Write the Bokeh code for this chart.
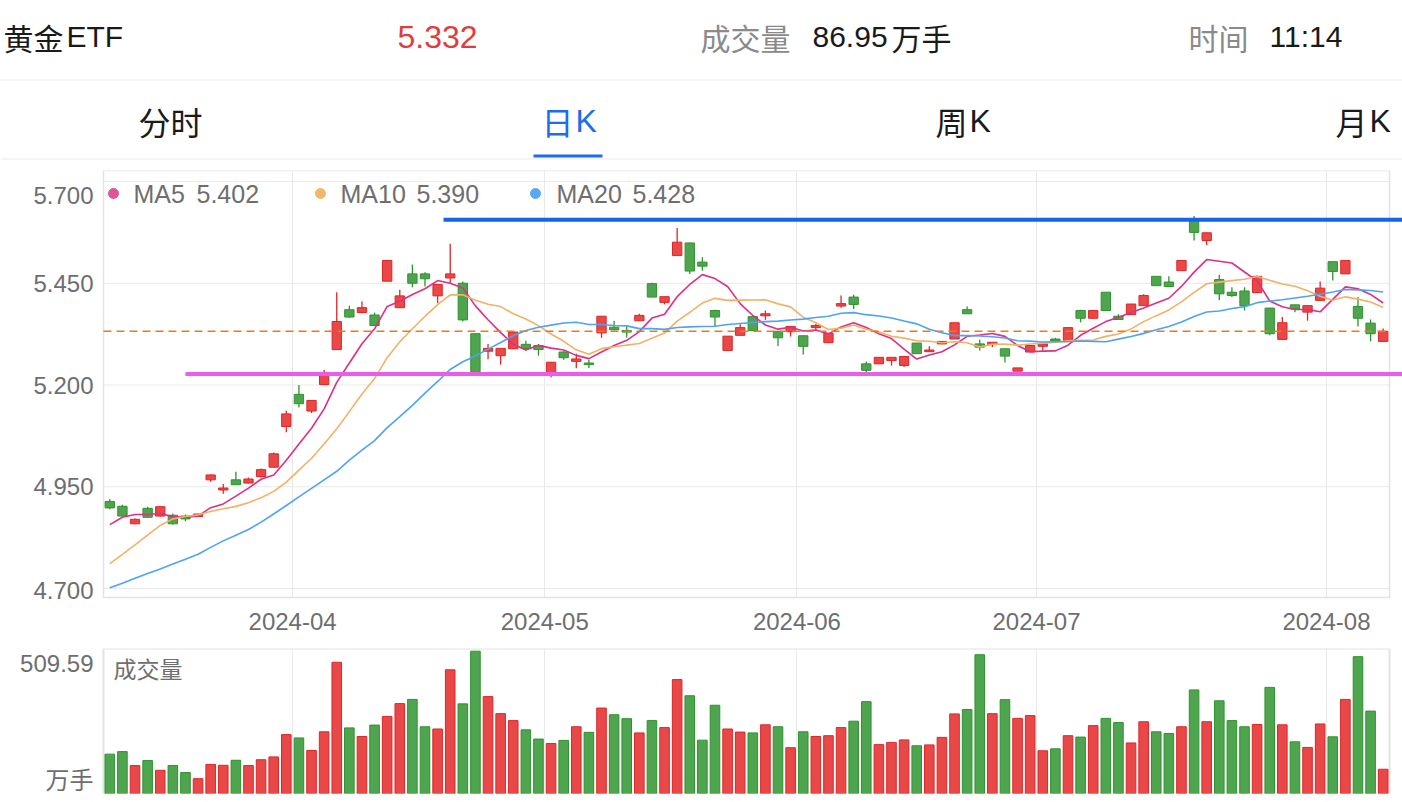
import numpy as np
import pandas as pd
from bokeh.plotting import figure
from bokeh.models import Range1d, FixedTicker, Grid, ColumnDataSource
from bokeh.layouts import column
from bokeh.embed import file_html
from bokeh.resources import INLINE
from bokeh.core.properties import value

# ---------------- data ----------------
holidays = ["2024-04-04", "2024-04-05", "2024-05-01", "2024-05-02", "2024-05-03", "2024-06-10"]
dates = [d.strftime("%Y-%m-%d") for d in pd.bdate_range("2024-03-11", "2024-08-07")
         if d.strftime("%Y-%m-%d") not in holidays]

open_ = [4.914, 4.902, 4.859, 4.897, 4.878, 4.880, 4.878, 4.877, 4.967, 4.942,
         4.967, 4.959, 4.975, 4.998, 5.098, 5.177, 5.136, 5.201, 5.287, 5.385,
         5.378, 5.372, 5.455, 5.390, 5.473, 5.473, 5.419, 5.463, 5.450, 5.326,
         5.283, 5.272, 5.289, 5.300, 5.297, 5.226, 5.281, 5.258, 5.254, 5.328,
         5.342, 5.334, 5.358, 5.449, 5.403, 5.518, 5.549, 5.502, 5.383, 5.285,
         5.322, 5.368, 5.370, 5.332, 5.331, 5.321, 5.341, 5.304, 5.394, 5.416,
         5.252, 5.252, 5.260, 5.248, 5.303, 5.282, 5.301, 5.313, 5.385, 5.301,
         5.299, 5.289, 5.234, 5.281, 5.295, 5.313, 5.309, 5.383, 5.364, 5.428,
         5.369, 5.373, 5.395, 5.467, 5.453, 5.481, 5.604, 5.555, 5.459, 5.428,
         5.431, 5.427, 5.389, 5.312, 5.397, 5.379, 5.408, 5.503, 5.473, 5.393,
         5.352, 5.307]
close = [4.898, 4.878, 4.870, 4.875, 4.901, 4.859, 4.871, 4.883, 4.979, 4.947,
         4.955, 4.969, 4.992, 5.031, 5.129, 5.154, 5.162, 5.231, 5.356, 5.367,
         5.390, 5.346, 5.506, 5.419, 5.450, 5.461, 5.447, 5.473, 5.360, 5.231,
         5.290, 5.290, 5.330, 5.290, 5.287, 5.256, 5.267, 5.264, 5.250, 5.369,
         5.336, 5.330, 5.371, 5.416, 5.417, 5.551, 5.480, 5.492, 5.367, 5.320,
         5.341, 5.334, 5.375, 5.316, 5.344, 5.295, 5.346, 5.327, 5.400, 5.398,
         5.236, 5.268, 5.268, 5.270, 5.277, 5.286, 5.307, 5.353, 5.375, 5.293,
         5.305, 5.271, 5.242, 5.297, 5.301, 5.308, 5.341, 5.364, 5.383, 5.383,
         5.361, 5.399, 5.420, 5.444, 5.442, 5.506, 5.575, 5.574, 5.424, 5.420,
         5.395, 5.467, 5.326, 5.353, 5.387, 5.395, 5.438, 5.479, 5.506, 5.364,
         5.326, 5.332]
high = [4.920, 4.906, 4.872, 4.901, 4.902, 4.884, 4.882, 4.884, 4.980, 4.957,
        4.987, 4.973, 4.995, 5.034, 5.137, 5.200, 5.162, 5.237, 5.428, 5.395,
        5.405, 5.378, 5.506, 5.434, 5.496, 5.477, 5.447, 5.547, 5.454, 5.327,
        5.301, 5.290, 5.330, 5.309, 5.301, 5.256, 5.283, 5.277, 5.262, 5.369,
        5.358, 5.344, 5.375, 5.451, 5.417, 5.586, 5.550, 5.514, 5.385, 5.320,
        5.349, 5.370, 5.383, 5.332, 5.344, 5.321, 5.350, 5.327, 5.420, 5.422,
        5.258, 5.268, 5.268, 5.270, 5.303, 5.295, 5.307, 5.353, 5.393, 5.311,
        5.305, 5.289, 5.242, 5.297, 5.301, 5.316, 5.341, 5.385, 5.383, 5.428,
        5.374, 5.399, 5.423, 5.467, 5.467, 5.506, 5.615, 5.574, 5.471, 5.440,
        5.440, 5.469, 5.389, 5.367, 5.397, 5.395, 5.454, 5.503, 5.506, 5.416,
        5.361, 5.339]
low = [4.895, 4.877, 4.858, 4.874, 4.877, 4.857, 4.865, 4.876, 4.962, 4.933,
       4.955, 4.958, 4.973, 4.997, 5.084, 5.145, 5.131, 5.201, 5.287, 5.365,
       5.376, 5.346, 5.455, 5.390, 5.440, 5.442, 5.401, 5.449, 5.356, 5.231,
       5.263, 5.250, 5.289, 5.285, 5.272, 5.219, 5.262, 5.241, 5.242, 5.316,
       5.334, 5.317, 5.358, 5.416, 5.398, 5.518, 5.473, 5.481, 5.344, 5.285,
       5.322, 5.334, 5.360, 5.296, 5.319, 5.275, 5.334, 5.304, 5.390, 5.387,
       5.231, 5.252, 5.248, 5.244, 5.277, 5.281, 5.300, 5.313, 5.375, 5.285,
       5.293, 5.255, 5.234, 5.281, 5.285, 5.308, 5.309, 5.354, 5.364, 5.383,
       5.361, 5.373, 5.395, 5.444, 5.442, 5.481, 5.555, 5.544, 5.408, 5.416,
       5.383, 5.427, 5.322, 5.312, 5.379, 5.358, 5.408, 5.457, 5.473, 5.344,
       5.307, 5.307]
volume = [141, 150, 100, 118, 83, 100, 75, 53, 104, 101,
          119, 100, 121, 131, 211, 199, 154, 221, 470, 235,
          204, 245, 276, 322, 337, 239, 231, 443, 321, 509.59,
          347, 286, 261, 228, 195, 179, 190, 239, 219, 306,
          282, 268, 217, 261, 236, 408, 350, 191, 316, 231,
          220, 217, 246, 239, 164, 221, 204, 207, 236, 259,
          329, 175, 183, 192, 171, 174, 201, 285, 301, 497,
          286, 336, 269, 279, 153, 160, 207, 202, 243, 269,
          254, 181, 257, 221, 215, 239, 371, 257, 332, 261,
          239, 247, 380, 246, 185, 165, 249, 203, 337, 490,
          295, 86.95]

# moving-average values before a full window is available
ma5_head = [4.857, 4.875, 4.882, 4.882]
ma10_head = [4.761, 4.784, 4.807, 4.831, 4.855, 4.871, 4.877, 4.881, 4.889]
ma20_head = [4.702, 4.713, 4.725, 4.737, 4.748, 4.760, 4.772, 4.784, 4.801, 4.817,
             4.831, 4.845, 4.863, 4.883, 4.904, 4.925, 4.946, 4.967, 4.988]

ma_names = ["MA5", "MA10", "MA20"]
ma_values = ["5.402", "5.390", "5.428"]
price_ticks = [4.70, 4.95, 5.20, 5.45, 5.70]
resistance, resistance_from = 5.606, 26.47
support, support_from = 5.227, 6.0

header_name = ["黄金", "ETF"]
header_price = "5.332"
header_vol_label, header_vol, header_vol_unit = "成交量", "86.95", "万手"
header_time_label, header_time = "时间", "11:14"
tabs = [("分时", ""), ("日", "K"), ("周", "K"), ("月", "K")]
vol_max_label = "509.59"

n = len(dates)
for arr in (open_, close, high, low, volume):
    assert len(arr) == n, (len(arr), n)


def moving_avg(vals, w, head):
    s = pd.Series(vals).rolling(w).mean().to_numpy()
    s[:w - 1] = head
    return s


ma5 = moving_avg(close, 5, ma5_head)
ma10 = moving_avg(close, 10, ma10_head)
ma20 = moving_avg(close, 20, ma20_head)

# ---------------- styling ----------------
W = 1402
L = 103                      # left edge of the plotting grid (px)
PITCH = 1286 / n             # px per trading day
PPU = 407.0                  # px per 1.0 price unit
GRID_H = 427                 # bordered grid height (px)
FRAME_H = 435                # drawing frame (a little taller so the 4.700 label is not cut)
ymax = 5.70 + 11 / PPU
ymin = ymax - GRID_H / PPU
yframe_min = ymax - FRAME_H / PPU
x0 = -0.5
x_last = n - 0.5
x_start = x0 - L / PITCH     # canvas left edge
x_end = x0 + (W - L) / PITCH  # canvas right edge

LATIN = value("Liberation Sans")
CJK = value("Noto Sans CJK SC")
UP_FILL, UP_LINE = "#E84848", "#E02626"
DN_FILL, DN_LINE = "#4FA54F", "#2C942C"
GRID = "#E9E9E9"
BORDER = "#E3E3E3"
C_MA = ["#DC2F86", "#F1B264", "#4DA3F5"]
TXT_GRAY = "#6E6E6E"


def px_x(px):
    return x0 + (px - L) / PITCH


def px_y(py):
    return ymax - (py - 170) / PPU


months = [d[:7] for d in dates]
month_idx = [i for i in range(1, n) if months[i] != months[i - 1]]
month_ticks = [i - 0.5 for i in month_idx]
month_labels = {i - 0.5: months[i] for i in month_idx}

idx = np.arange(n)
o = np.array(open_); c = np.array(close)
up = c >= o
src = ColumnDataSource(dict(
    x=idx, high=high, low=low,
    top=np.maximum(o, c), bottom=np.minimum(o, c),
    fill=[UP_FILL if u else DN_FILL for u in up],
    line=[UP_LINE if u else DN_LINE for u in up],
    vol=volume,
))

# ---------------- header ----------------
h = figure(width=W, height=160, x_range=Range1d(0, W), y_range=Range1d(160, 0),
           output_backend="svg", toolbar_location=None,
           x_axis_location=None, y_axis_location=None, min_border=0)
h.grid.visible = False
h.outline_line_color = None
h.segment(x0=[0, 0], x1=[W, W], y0=[79.5, 158.5], y1=[79.5, 158.5], line_color="#EBEBEB", line_width=1)
h.segment(x0=[533], x1=[602], y0=[155.5], y1=[155.5], line_color="#1E6BF0", line_width=3)

hdr = dict(text_baseline="middle", text_align="left", text_font_size="30px")
h.text(x=[3], y=[36], text=[header_name[0]], text_font=CJK, text_color="#1A1A1A", **hdr)
h.text(x=[66], y=[36], text=[header_name[1]], text_font=LATIN, text_color="#1A1A1A", **hdr)
h.text(x=[397], y=[36], text=[header_price], text_font=LATIN, text_color="#E23B3B",
       text_baseline="middle", text_align="left", text_font_size="32px")
h.text(x=[700, 1188], y=[36, 36], text=[header_vol_label, header_time_label], text_font=CJK,
       text_color="#8A8A8A", **hdr)
h.text(x=[812, 1269], y=[36, 36], text=[header_vol, header_time], text_font=LATIN,
       text_color="#1A1A1A", **hdr)
h.text(x=[891], y=[36], text=[header_vol_unit], text_font=CJK, text_color="#1A1A1A", **hdr)

tab_x = [138, 541, 935, 1335]
for (cj, lat), tx in zip(tabs, tab_x):
    col = "#1E6BF0" if cj == "日" else "#1A1A1A"
    h.text(x=[tx], y=[120], text=[cj], text_font=CJK, text_color=col,
           text_baseline="middle", text_align="left", text_font_size="32px")
    if lat:
        h.text(x=[tx + 34], y=[120], text=[lat], text_font=LATIN, text_color=col,
               text_baseline="middle", text_align="left", text_font_size="32px")

# ---------------- price chart ----------------
p = figure(width=W, height=480, x_range=Range1d(x_start, x_end), y_range=Range1d(yframe_min, ymax),
           output_backend="svg", toolbar_location=None, y_axis_location=None,
           min_border_left=0, min_border_right=0, min_border_top=10, min_border_bottom=480 - 10 - FRAME_H)
p.outline_line_color = None
p.ygrid.visible = False
p.xaxis.ticker = FixedTicker(ticks=month_ticks)
p.xgrid.ticker = FixedTicker(ticks=month_ticks)
p.xgrid.grid_line_color = GRID
p.xaxis.major_label_overrides = month_labels
p.xaxis.axis_line_color = None
p.xaxis.major_tick_line_color = None
p.xaxis.minor_tick_line_color = None
p.xaxis.major_label_text_font = "Liberation Sans"
p.xaxis.major_label_text_font_size = "24px"
p.xaxis.major_label_text_color = TXT_GRAY
p.xaxis.major_label_standoff = 1

# mask the month grid lines outside the bordered grid
p.quad(left=[x_start], right=[x0 - 0.05], bottom=[yframe_min], top=[ymax], fill_color="white", line_color=None)
p.quad(left=[x0], right=[x_end], bottom=[yframe_min], top=[ymin], fill_color="white", line_color=None)

p.segment(x0=[x0] * len(price_ticks), x1=[x_last] * len(price_ticks), y0=price_ticks, y1=price_ticks,
          line_color=GRID, line_width=1)
p.quad(left=[x0], right=[x_last], bottom=[ymin], top=[ymax], fill_color=None,
       line_color=BORDER, line_width=1.5)

p.segment(x0="x", y0="high", x1="x", y1="low", line_color="line", line_width=1.3, source=src)
p.vbar(x="x", width=0.74, top="top", bottom="bottom", fill_color="fill", line_color="line",
       line_width=1, source=src)

for m, col in zip((ma5, ma10, ma20), C_MA):
    p.line(idx, m, line_color=col, line_width=1.6)

p.segment(x0=[x0], x1=[x_last], y0=[close[-1]], y1=[close[-1]], line_color="#F07A12",
          line_width=1.6, line_dash="8 5")
p.segment(x0=[resistance_from], x1=[x_end], y0=[resistance], y1=[resistance],
          line_color="#1463EE", line_width=4)
p.segment(x0=[support_from], x1=[x_end], y0=[support], y1=[support],
          line_color="#EA5CEA", line_width=4)

# legend
dot_px = [113, 320, 535]
name_px = [133, 340, 556]
val_px = [196, 416, 632]
ly = px_y(193)
p.scatter([px_x(v) for v in dot_px], [ly] * 3, size=10, color=["#E0559A", "#EFB86E", "#5AA9F4"])
p.text([px_x(v) for v in name_px], [ly] * 3, text=ma_names, text_font=LATIN, text_font_size="25px",
       text_color=TXT_GRAY, text_baseline="middle", text_align="left")
p.text([px_x(v) for v in val_px], [ly] * 3, text=ma_values, text_font=LATIN, text_font_size="25px",
       text_color=TXT_GRAY, text_baseline="middle", text_align="left")

# y axis labels (top label pushed down inside the grid, as in the original)
label_shift = {5.70: 14, 4.70: 2}
p.text([x0 - 10 / PITCH] * len(price_ticks),
       [t - label_shift.get(t, 0) / PPU for t in price_ticks],
       text=[f"{t:.3f}" for t in price_ticks], text_font=LATIN, text_font_size="24px",
       text_color=TXT_GRAY, text_baseline="middle", text_align="right")

# ---------------- volume chart ----------------
VFRAME = 145
VTOP = max(volume) * VFRAME / 142.3
v = figure(width=W, height=162, x_range=Range1d(x_start, x_end), y_range=Range1d(0, VTOP),
           output_backend="svg", toolbar_location=None, x_axis_location=None, y_axis_location=None,
           min_border_left=0, min_border_right=0, min_border_top=8, min_border_bottom=9)
v.grid.visible = False
v.outline_line_color = None
v.add_layout(Grid(dimension=0, ticker=FixedTicker(ticks=month_ticks), grid_line_color=GRID), "center")
v.quad(left=[x0], right=[x_last], bottom=[0], top=[VTOP], fill_color=None,
       line_color=BORDER, line_width=2)
v.vbar(x="x", width=0.76, top="vol", bottom=0, fill_color="fill", line_color="line",
       line_width=1, source=src)


def vpx(py):
    return VTOP - (py - 648) * VTOP / VFRAME


v.text([x0 + 10 / PITCH], [vpx(667)], text=[header_vol_label], text_font=CJK, text_font_size="23px",
       text_color=TXT_GRAY, text_baseline="middle", text_align="left")
v.text([x0 - 10 / PITCH], [vpx(663)], text=[vol_max_label], text_font=LATIN, text_font_size="24px",
       text_color=TXT_GRAY, text_baseline="middle", text_align="right")
v.text([x0 - 10 / PITCH], [vpx(778)], text=[header_vol_unit], text_font=CJK, text_font_size="24px",
       text_color=TXT_GRAY, text_baseline="middle", text_align="right")

layout = column(h, p, v, spacing=0)
open("out.html", "w").write(file_html(layout, INLINE))
